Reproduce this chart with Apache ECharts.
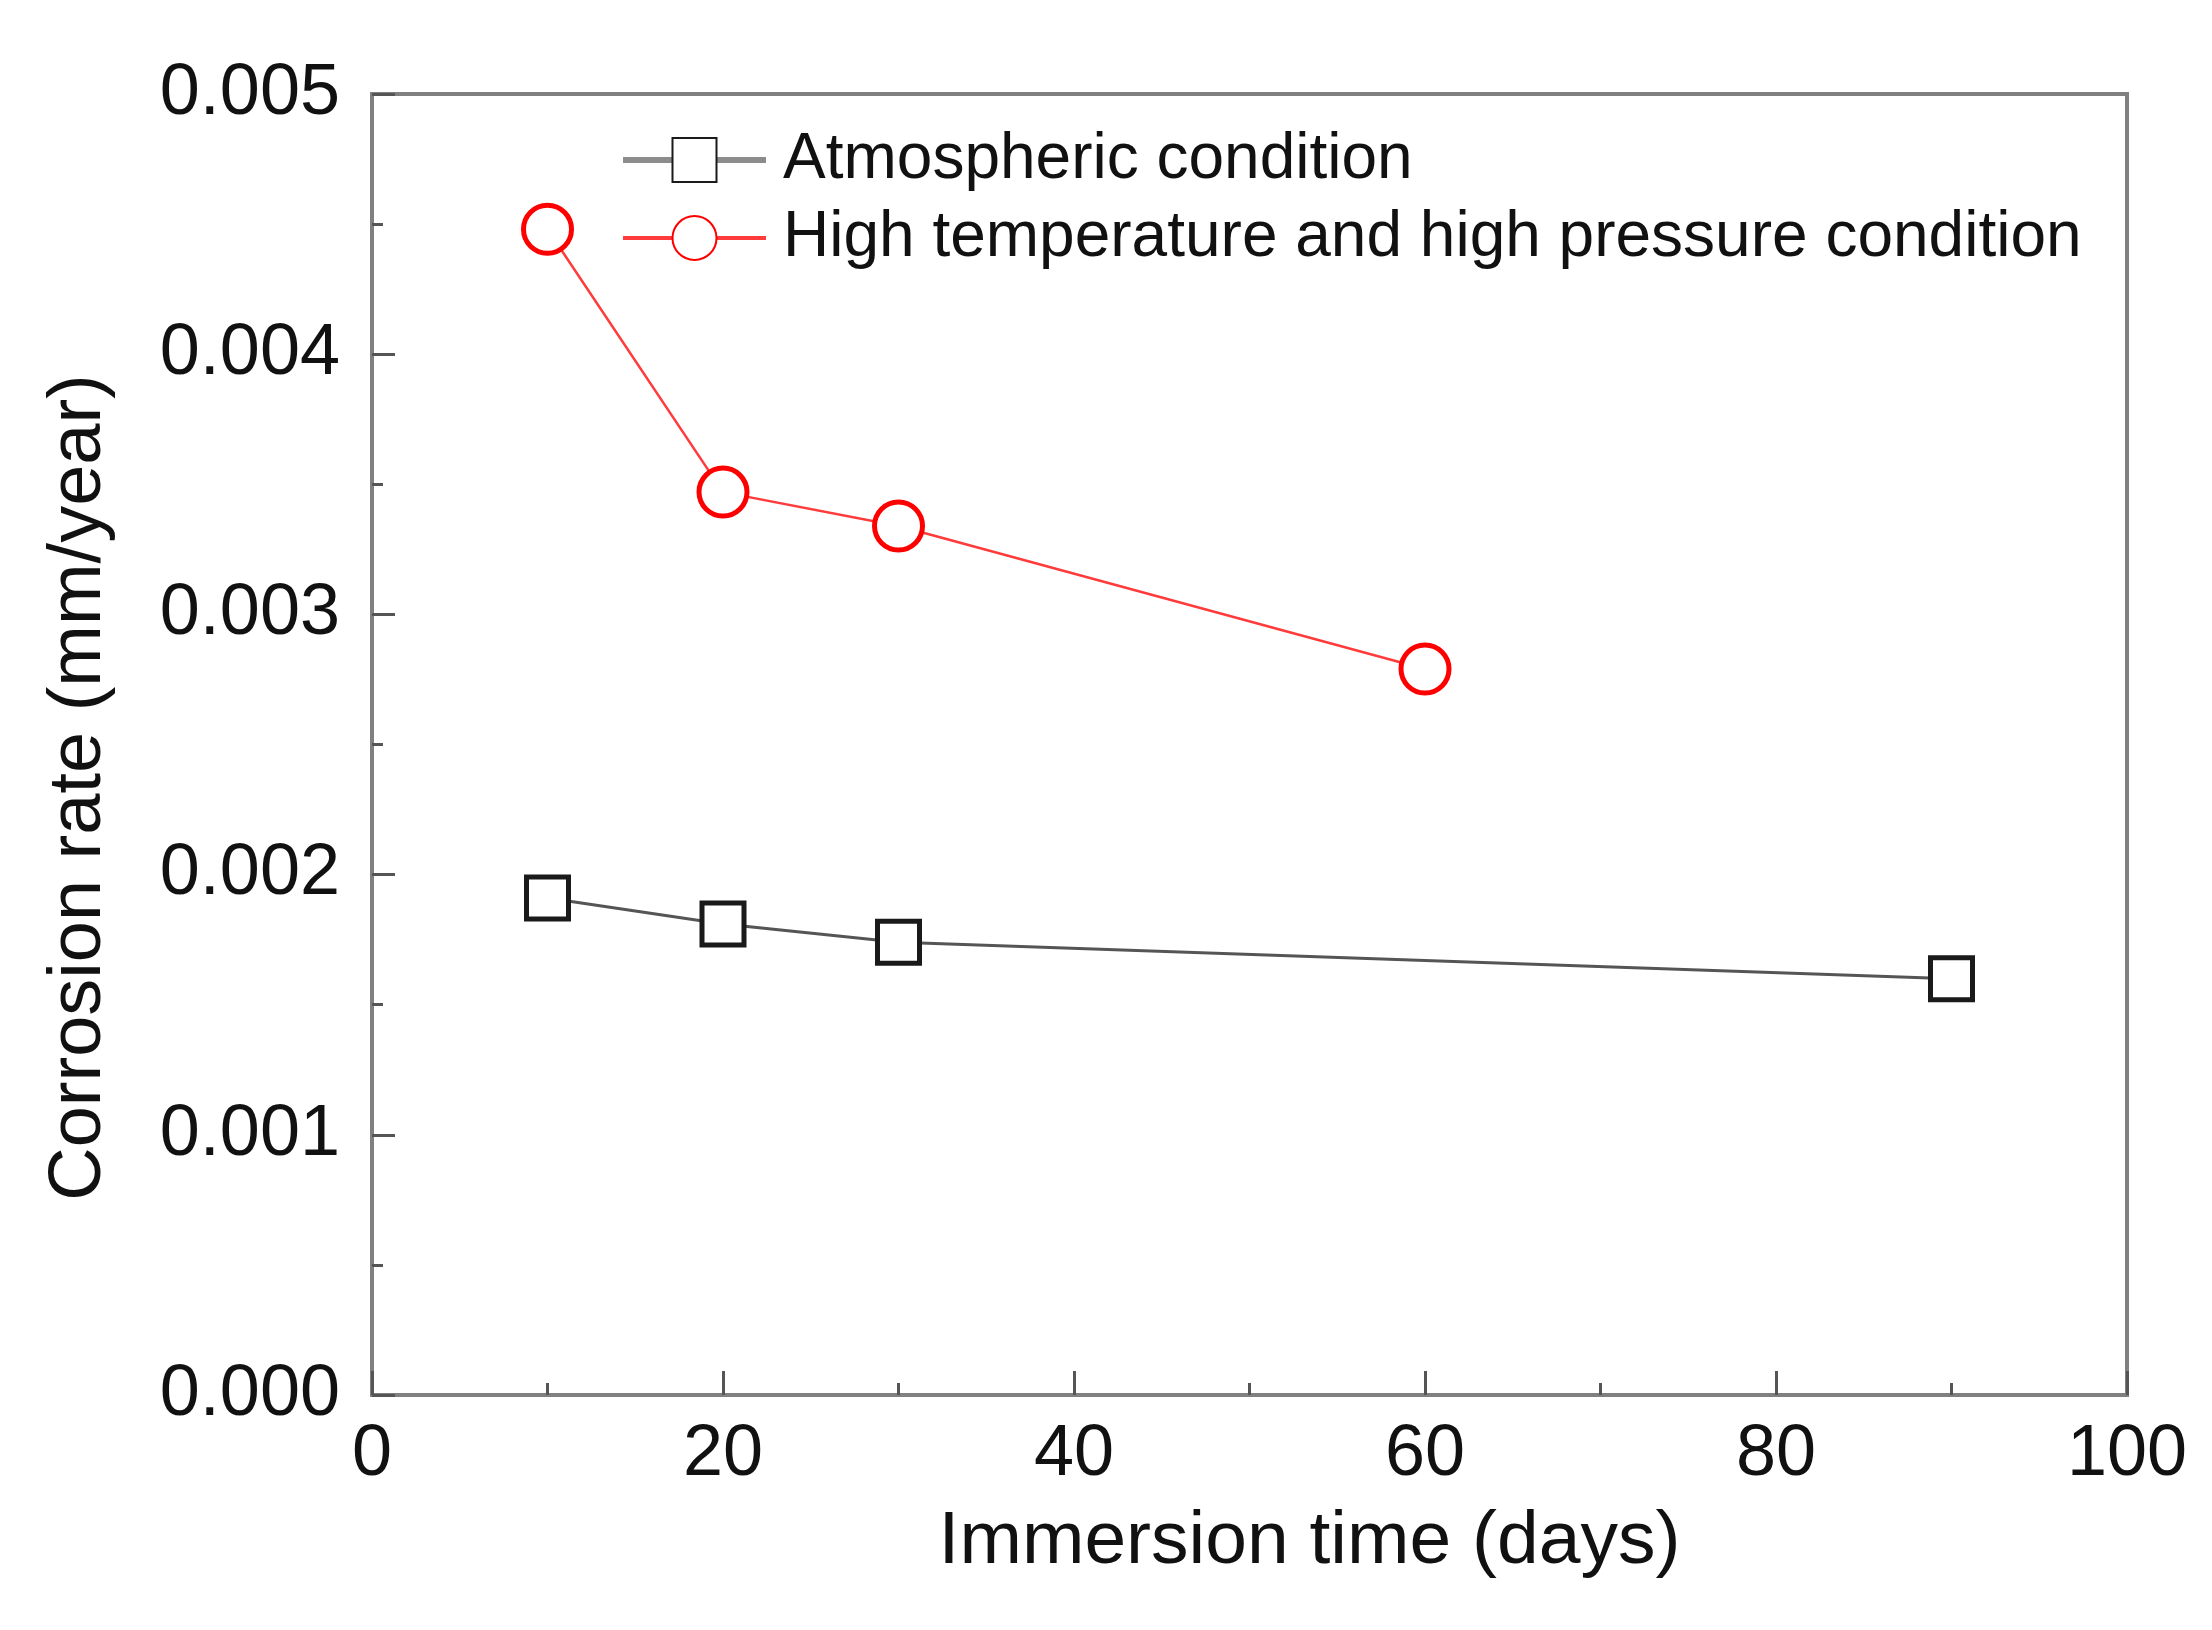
<!DOCTYPE html>
<html>
<head>
<meta charset="utf-8">
<title>Corrosion rate vs immersion time</title>
<script src="https://cdn.jsdelivr.net/npm/echarts@6/dist/echarts.min.js"></script>
<style>
  html, body { margin: 0; padding: 0; background: #fff; }
  #chart { width: 2212px; height: 1630px; }
</style>
</head>
<body>
<div id="chart"></div>
<script>
// data
let seriesNames = ['Atmospheric condition', 'High temperature and high pressure condition'];
let atmDays = [10, 20, 30, 90];
let atmRate = [0.00191, 0.00181, 0.00174, 0.00160];
let hthpDays = [10, 20, 30, 60];
let hthpRate = [0.00448, 0.00347, 0.00334, 0.00279];
let xTicks = [0, 20, 40, 60, 80, 100];
let yTicks = [0, 0.001, 0.002, 0.003, 0.004, 0.005];

let font = 'Liberation Sans, Arial, sans-serif';
let axisGrey = '#808080';

let myChart = echarts.init(document.getElementById('chart'));

function pairs(xs, ys) {
    let out = [];
    xs.forEach((x, i) => { out.push([x, ys[i]]); });
    return out;
}

let option = {
    backgroundColor: '#fff',
    animation: false,
    grid: {
        left: 372, right: 85, top: 94, bottom: 235,
        show: true,
        borderColor: axisGrey,
        borderWidth: 4
    },
    legend: {
        orient: 'vertical',
        left: 615,
        top: 123,
        itemWidth: 143,
        itemHeight: 55,
        itemGap: 14,
        textStyle: { fontFamily: font, fontSize: 64, color: '#111', padding: [0, 0, 0, 12] },
        data: [
            { name: seriesNames[0], lineStyle: { color: '#8c8c8c', width: 6 } },
            { name: seriesNames[1], lineStyle: { color: '#ff3b3b', width: 4 } }
        ]
    },
    xAxis: {
        type: 'value',
        min: xTicks[0],
        max: xTicks[xTicks.length - 1],
        interval: 20,
        name: 'Immersion time (days)',
        nameLocation: 'middle',
        nameGap: 110,
        nameTextStyle: { fontFamily: font, fontSize: 75, color: '#111', padding: [0, 0, 0, 120] },
        axisLine: { show: true, lineStyle: { color: axisGrey, width: 4 } },
        axisTick: { show: true, inside: true, length: 24, lineStyle: { color: '#555', width: 3 } },
        minorTick: { show: true, splitNumber: 2, length: 12, lineStyle: { color: '#555', width: 3 } },
        splitLine: { show: false },
        axisLabel: { fontFamily: font, fontSize: 72, color: '#111', margin: 24 }
    },
    yAxis: {
        type: 'value',
        min: yTicks[0],
        max: yTicks[yTicks.length - 1],
        interval: 0.001,
        name: 'Corrosion rate (mm/year)',
        nameLocation: 'middle',
        nameGap: 255,
        nameTextStyle: { fontFamily: font, fontSize: 74, color: '#111', padding: [0, 86, 0, 0] },
        axisLine: { show: true, lineStyle: { color: axisGrey, width: 4 } },
        axisTick: { show: true, inside: true, length: 23, lineStyle: { color: '#555', width: 3 } },
        minorTick: { show: true, splitNumber: 2, length: 11, lineStyle: { color: '#555', width: 3 } },
        splitLine: { show: false },
        axisLabel: {
            fontFamily: font, fontSize: 72, color: '#111', margin: 32,
            formatter: function (v) { return v.toFixed(3); }
        }
    },
    series: [
        {
            name: seriesNames[0],
            type: 'line',
            data: pairs(atmDays, atmRate),
            symbol: 'rect',
            symbolSize: 42,
            lineStyle: { color: '#555', width: 3 },
            itemStyle: { color: '#fff', borderColor: '#1a1a1a', borderWidth: 5 },
            z: 3
        },
        {
            name: seriesNames[1],
            type: 'line',
            data: pairs(hthpDays, hthpRate),
            symbol: 'circle',
            symbolSize: 48,
            lineStyle: { color: '#ff3b3b', width: 2.5 },
            itemStyle: { color: '#fff', borderColor: '#ff0000', borderWidth: 5 },
            z: 3
        }
    ]
};

myChart.setOption(option);
</script>
</body>
</html>
